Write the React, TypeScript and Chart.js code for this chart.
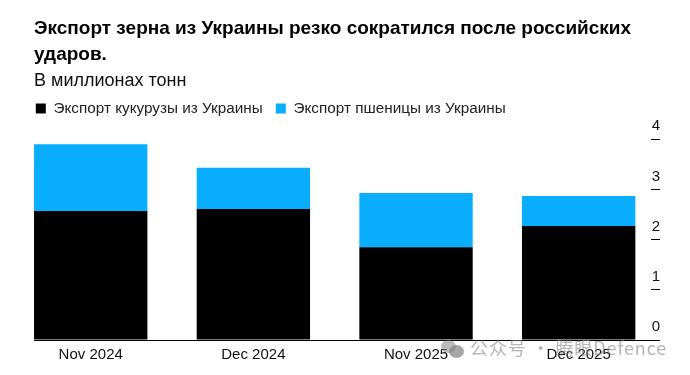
import React, { useEffect, useRef } from "react";
import { Chart, registerables } from "chart.js";

Chart.register(...registerables);

const categories = ["Nov 2024", "Dec 2024", "Nov 2025", "Dec 2025"];
const cornExports = [2.57, 2.61, 1.85, 2.27];
const wheatExports = [1.33, 0.82, 1.08, 0.6];
const titleLines = ["Экспорт зерна из Украины резко сократился после российских", "ударов."];
const subtitleText = "В миллионах тонн";
const cornLabel = "Экспорт кукурузы из Украины";
const wheatLabel = "Экспорт пшеницы из Украины";
const watermark = "公众号 · 腾眼Defence";

const SANS = '"Liberation Sans", Arial, sans-serif';

const shiftHeader = {
  id: "shiftHeader",
  afterLayout(chart: any) {
    const dx = 24.6;
    chart.boxes.forEach((b: any) => {
      if (b.position === "top" && b.options && b.options.text !== undefined) b.left += dx;
    });
    if (chart.legend) {
      chart.legend.left += 13.4;
      chart.legend.top -= 13.1;
    }
  },
};

// Baseline runs from the first bar's left edge to the end of the x scale.
const baseline = {
  id: "baseline",
  afterDatasetsDraw(chart: any) {
    const bar = chart.getDatasetMeta(0).data[0];
    const y = Math.round(chart.scales.y.getPixelForValue(0)) + 0.5;
    const { ctx } = chart;
    ctx.save();
    ctx.strokeStyle = "#000000";
    ctx.lineWidth = 1;
    ctx.beginPath();
    ctx.moveTo(bar.x - bar.width / 2, y);
    ctx.lineTo(chart.scales.x.right, y);
    ctx.stroke();
    ctx.restore();
  },
};

export default function App() {
  const ref = useRef<HTMLCanvasElement>(null);
  useEffect(() => {
    document.body.style.margin = "0";
    const chart = new Chart(ref.current!, {
      type: "bar",
      data: {
        labels: categories,
        datasets: [
          { label: cornLabel, data: cornExports, backgroundColor: "#000000", stack: "a", barPercentage: 1, categoryPercentage: 0.697 },
          { label: wheatLabel, data: wheatExports, backgroundColor: "#0AAEFF", stack: "a", barPercentage: 1, categoryPercentage: 0.697 },
        ],
      },
      plugins: [shiftHeader, baseline],
      options: {
        responsive: false,
        animation: false,
        layout: { padding: { left: 9.4, right: 30, top: 16, bottom: 5 } },
        plugins: {
          title: {
            display: true,
            text: titleLines,
            align: "start",
            color: "#000000",
            font: { family: SANS, size: 19, weight: "bold", lineHeight: 1.37 },
            padding: { top: 0, bottom: 2 },
          },
          subtitle: {
            display: true,
            text: subtitleText,
            align: "start",
            color: "#111111",
            font: { family: SANS, size: 18, lineHeight: 1.2 },
            padding: { top: 0, bottom: 9.3 },
          },
          legend: {
            display: true,
            position: "top",
            align: "start",
            labels: {
              boxWidth: 10,
              boxHeight: 10,
              padding: 13,
              color: "#222222",
              font: { family: SANS, size: 15.3 },
            },
          },
          tooltip: { enabled: false },
        },
        scales: {
          x: {
            stacked: true,
            grid: { display: false, drawTicks: false },
            border: { display: false },
            ticks: { color: "#111111", font: { family: SANS, size: 15 }, padding: 6, maxRotation: 0 },
          },
          y: {
            position: "right",
            stacked: true,
            min: 0,
            max: 4,
            afterFit(scale: any) { scale.width = 0; },
            grid: { drawOnChartArea: false, drawTicks: true, tickLength: -9, color: "#000000" },
            border: { display: false },
            ticks: {
              stepSize: 1,
              mirror: true,
              padding: 0,
              labelOffset: -13,
              color: "#111111",
              font: { family: SANS, size: 15 },
            },
          },
        },
      },
    });
    return () => chart.destroy();
  }, []);
  return (
    <div style={{ position: "relative", width: 690, height: 375 }}>
      <canvas ref={ref} width={690} height={375} style={{ display: "block" }} />
      <div style={{ position: "absolute", left: 441, top: 340, width: 15, height: 13, borderRadius: "50%", background: "rgba(130,130,130,0.55)" }} />
      <div style={{ position: "absolute", left: 449, top: 345, width: 15, height: 13, borderRadius: "50%", background: "rgba(130,130,130,0.7)" }} />
      <div style={{ position: "absolute", left: 470, top: 336, fontFamily: '"Noto Sans CJK SC", sans-serif', fontSize: 18, lineHeight: "22px", color: "rgba(130,130,130,0.6)", letterSpacing: 0.9, whiteSpace: "nowrap" }}>{watermark}</div>
    </div>
  );
}
